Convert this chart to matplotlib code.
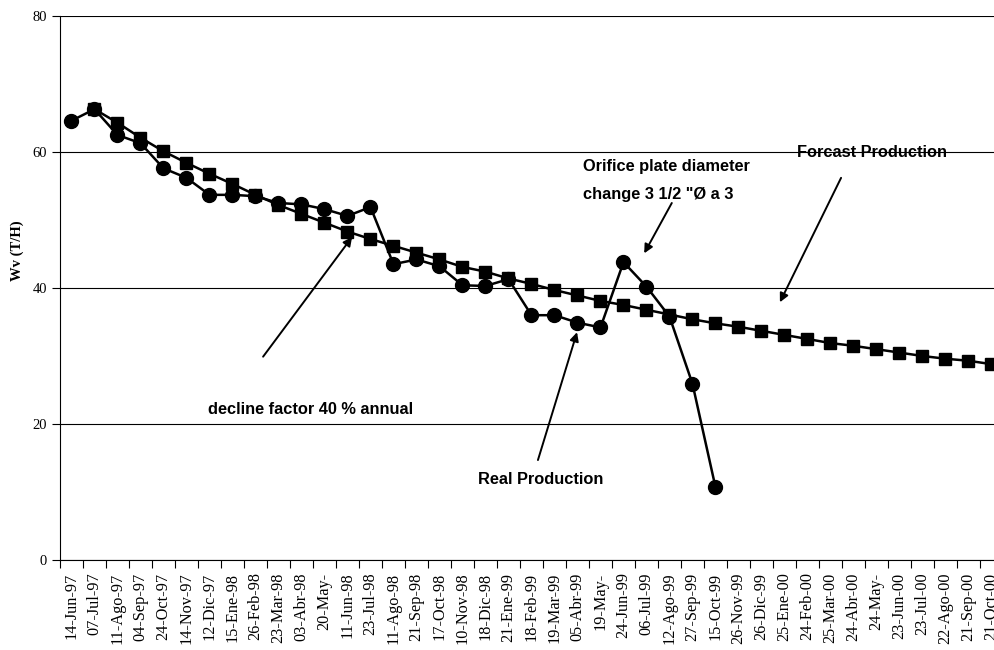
import numpy as np
import matplotlib
matplotlib.use("Agg")
import matplotlib.pyplot as plt

# --------------------------
# data
# --------------------------
dates = [
    "14-Jun-97", "07-Jul-97", "11-Ago-97", "04-Sep-97", "24-Oct-97", "14-Nov-97",
    "12-Dic-97", "15-Ene-98", "26-Feb-98", "23-Mar-98", "03-Abr-98", "20-May-",
    "11-Jun-98", "23-Jul-98", "11-Ago-98", "21-Sep-98", "17-Oct-98", "10-Nov-98",
    "18-Dic-98", "21-Ene-99", "18-Feb-99", "19-Mar-99", "05-Abr-99", "19-May-",
    "24-Jun-99", "06-Jul-99", "12-Ago-99", "27-Sep-99", "15-Oct-99", "26-Nov-99",
    "26-Dic-99", "25-Ene-00", "24-Feb-00", "25-Mar-00", "24-Abr-00", "24-May-",
    "23-Jun-00", "23-Jul-00", "22-Ago-00", "21-Sep-00", "21-Oct-00",
]

real_prod = [
    64.6, 66.3, 62.5, 61.3, 57.6, 56.2, 53.7, 53.7, 53.5, 52.5,
    52.3, 51.6, 50.6, 51.9, 43.5, 44.2, 43.2, 40.4, 40.3, 41.3,
    36.0, 36.0, 34.9, 34.2, 43.8, 40.2, 35.8, 25.9, 10.7,
]

# forecast starts at the 2nd date
forecast = [
    66.3, 64.3, 62.1, 60.1, 58.4, 56.8, 55.3, 53.7, 52.2, 50.9,
    49.6, 48.3, 47.2, 46.2, 45.2, 44.2, 43.1, 42.4, 41.4, 40.6,
    39.7, 38.9, 38.1, 37.5, 36.8, 36.1, 35.4, 34.8, 34.3, 33.7,
    33.1, 32.5, 31.9, 31.5, 31.0, 30.5, 30.0, 29.6, 29.3, 28.8,
]

serif = "Liberation Serif"
sans = "Liberation Sans"

x_all = np.arange(1, len(dates) + 1)
x_real = x_all[:len(real_prod)]
x_fc = x_all[1:1 + len(forecast)]

# --------------------------
# figure
# --------------------------
fig = plt.figure(figsize=(9.95, 6.5), dpi=100)
# plot area runs past the right edge, like the cropped original
ax = fig.add_axes([60 / 995, 90 / 650, 943 / 995, 544 / 650])

ax.plot(x_fc, forecast, color="black", lw=1.8, marker="s", ms=8.5, zorder=3)
ax.plot(x_real, real_prod, color="black", lw=1.8, marker="o", ms=10, zorder=4)

ax.set_xlim(0.5, len(dates) + 0.5)
ax.set_ylim(0, 80)

# y axis
ax.set_yticks([0, 20, 40, 60, 80])
ax.yaxis.grid(True, color="black", lw=0.8)
ax.set_axisbelow(True)
ax.tick_params(axis="y", direction="out", length=6, width=0.8, labelsize=10.5)
for lab in ax.get_yticklabels():
    lab.set_fontfamily(serif)
ax.set_ylabel("Wv (T/H)", fontfamily=serif, fontweight="bold", fontsize=10.5)
ax.yaxis.set_label_coords(-0.038, 0.568)

# x axis: labels at category centres, ticks at boundaries
ax.set_xticks(x_all)
ax.set_xticklabels(dates, rotation=90, fontfamily=serif, fontsize=11.7)
ax.tick_params(axis="x", which="major", length=0, pad=9)
ax.set_xticks(np.arange(0.5, len(dates) + 1), minor=True)
ax.tick_params(axis="x", which="minor", direction="out", length=6, width=0.8)

for side in ["top", "right"]:
    ax.spines[side].set_visible(False)
ax.spines["left"].set_linewidth(0.8)
ax.spines["bottom"].set_linewidth(0.8)

# --------------------------
# annotations
# --------------------------
arrow = dict(arrowstyle="-|>", color="black", lw=1.4, mutation_scale=13, shrinkA=0, shrinkB=0)
txt = dict(fontfamily=sans, fontweight="bold", fontsize=11.8, va="center", ha="left", zorder=5)

ax.annotate("", xy=(25.9, 45.1), xytext=(27.1, 52.5), arrowprops=arrow)
ax.text(23.24, 57.8, "Orifice plate diameter", **txt)
ax.text(23.24, 53.7, "change 3 1/2 \"\u00d8 a 3", **txt)

ax.annotate("", xy=(31.8, 37.9), xytext=(34.46, 56.2), arrowprops=arrow)
ax.text(32.54, 60.0, "Forcast Production", **txt)

ax.annotate("", xy=(13.2, 47.5), xytext=(9.33, 29.9), arrowprops=arrow)
ax.text(6.93, 22.2, "decline factor 40 % annual", **txt)

ax.annotate("", xy=(22.98, 33.5), xytext=(21.28, 14.7), arrowprops=arrow)
ax.text(18.67, 11.9, "Real Production", **txt)

fig.savefig("out.png", dpi=100)
